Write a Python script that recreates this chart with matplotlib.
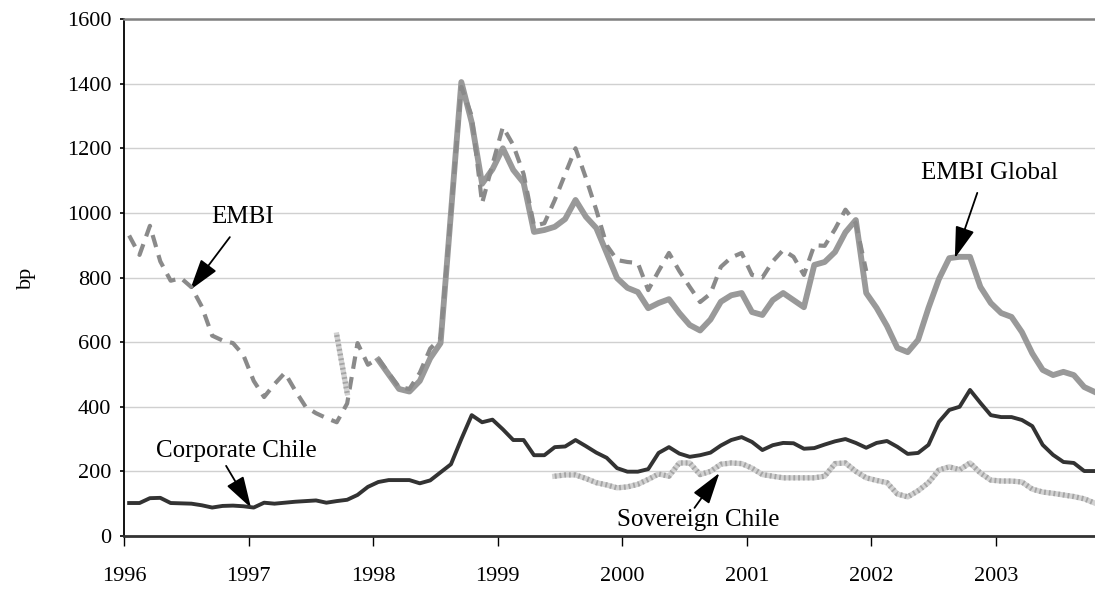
import numpy as np
import matplotlib
matplotlib.use('Agg')
import matplotlib.pyplot as plt

plt.rcParams['font.family'] = ['Liberation Serif', 'DejaVu Serif']

nan = np.nan

# monthly spreads in bp, Jan 1996 .. Oct 2003 (94 months)
corporate_chile = [
    102, 102, 117, 118, 102, 101, 100, 95, 88, 93, 94, 92,
    88, 103, 100, 103, 106, 108, 110, 103, 108, 112, 127, 152,
    167, 173, 173, 173, 163, 172, 197, 222, 300, 374, 352, 360,
    330, 297, 297, 250, 250, 275, 277, 297, 278, 258, 242, 210,
    199, 199, 207, 257, 275, 255, 245, 250, 258, 280, 297, 306,
    291, 266, 281, 288, 287, 270, 272, 283, 293, 300, 288, 273,
    288, 294, 276, 254, 257, 282, 353, 390, 400, 452, 412, 374,
    368, 368, 359, 340, 282, 251, 229, 226, 201, 201,
]

embi = [
    930, 870, 960, 850, 790, 798, 770, 710, 620, 605, 597, 560,
    480, 430, 470, 505, 450, 400, 380, 365, 352, 410, 597, 530,
    550, 504, 461, 455, 505, 580, 612, 1000, 1390, 1300, 1030, 1150,
    1266, 1210, 1120, 960, 968, 1040, 1120, 1200, 1108, 1009, 900, 854,
    848, 845, 761, 820, 876, 820, 771, 724, 750, 833, 862, 876,
    808, 800, 850, 885, 864, 808, 900, 898, 950, 1010, 968, 820,
] + [nan] * 22

embi_global = [nan] * 24 + [
    545, 500, 455, 447, 480, 550, 597, 1000, 1405, 1280, 1090, 1135,
    1200, 1133, 1093, 941, 947, 957, 981, 1040, 988, 953, 876, 798,
    768, 755, 705, 721, 733, 690, 653, 636, 670, 725, 745, 752,
    693, 684, 730, 752, 730, 708, 839, 848, 879, 940, 978, 752,
    706, 650, 582, 569, 607, 706, 795, 860, 864, 864, 771, 721,
    690, 678, 631, 565, 514, 498, 508, 498, 461, 446,
]

sovereign_chile = [nan] * 20 + [622, 443] + [nan] * 19 + [
    185, 189, 189, 178, 165, 158, 149,
    152, 160, 175, 192, 185, 226, 226, 190, 200, 222, 226, 224,
    210, 190, 185, 180, 180, 180, 180, 185, 224, 226, 200, 180,
    172, 165, 130, 121, 140, 165, 204, 214, 205, 226, 195, 173,
    170, 170, 167, 145, 136, 132, 127, 122, 115, 102,
]

years = list(range(1996, 2004))
months = 1996 + (np.arange(94) + 0.5) / 12

fig = plt.figure(figsize=(10.95, 5.95), dpi=100)
ax = fig.add_axes([0.1132, 0.0992, 0.8868, 0.8688])

ax.plot(months, embi_global, color='#999999', lw=4.2, solid_joinstyle='round', zorder=3)
ax.plot(months, embi, color='#8a8a8a', lw=3.0, linestyle=(0, (3, 2)), zorder=4)
ax.plot(months, corporate_chile, color='#333333', lw=2.8, zorder=5)
# hatched look for the sovereign line
ax.plot(months, sovereign_chile, color='#d2d2d2', lw=3.8, zorder=5)
ax.plot(months, sovereign_chile, color='#a5a5a5', lw=3.8, linestyle=(0, (0.35, 0.55)), zorder=5)

ax.set_xlim(1996, 2003.795)
ax.set_ylim(0, 1600)
ax.set_yticks(range(0, 1601, 200))
ax.set_xticks(years)
ax.set_xticklabels([str(y) for y in years])
ax.grid(axis='y', color='#d0d0d0', lw=1.0)
ax.set_axisbelow(True)

ax.tick_params(axis='y', labelsize=16, length=3, width=1.2, pad=6)
ax.tick_params(axis='x', labelsize=16, length=7, width=1.0, pad=15)
ax.set_ylabel('bp', fontsize=16, labelpad=22)

ax.spines['left'].set_color('black')
ax.spines['left'].set_linewidth(1.3)
ax.spines['bottom'].set_color('#333333')
ax.spines['bottom'].set_linewidth(2.0)
ax.spines['top'].set_color('#808080')
ax.spines['top'].set_linewidth(1.8)
ax.spines['right'].set_visible(False)

arrow = dict(arrowstyle='-|>,head_length=0.65,head_width=0.2', color='black', lw=1.3,
             mutation_scale=30, shrinkA=0, shrinkB=0)

# labels
ax.text(1996.95, 987, 'EMBI', fontsize=18, ha='center', va='center')
ax.text(2002.95, 1123, 'EMBI Global', fontsize=18, ha='center', va='center')
ax.text(1996.90, 263, 'Corporate Chile', fontsize=18, ha='center', va='center')
ax.text(2000.61, 50, 'Sovereign Chile', fontsize=18, ha='center', va='center')

# arrows
ax.annotate('', xy=(1996.53, 761), xytext=(1996.85, 925), arrowprops=arrow)
ax.annotate('', xy=(2002.67, 860), xytext=(2002.85, 1062), arrowprops=arrow)
ax.annotate('', xy=(1997.02, 87), xytext=(1996.82, 217), arrowprops=arrow)
ax.annotate('', xy=(2000.78, 195), xytext=(2000.58, 87), arrowprops=arrow)

fig.savefig('out.png', dpi=100)
